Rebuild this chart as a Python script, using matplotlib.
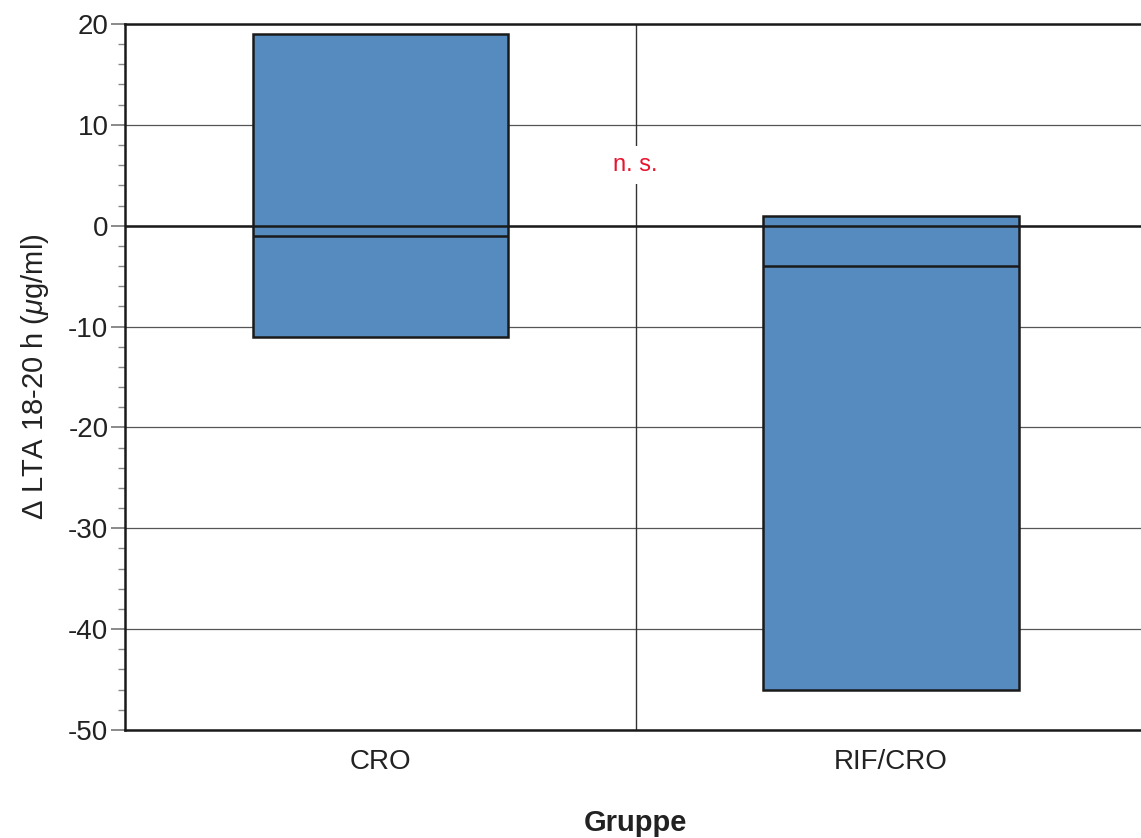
import matplotlib
matplotlib.use("Agg")
import matplotlib.pyplot as plt
from matplotlib.ticker import MultipleLocator

plt.rcParams['font.family'] = ['Liberation Sans', 'DejaVu Sans']
plt.rcParams['mathtext.fontset'] = 'custom'
plt.rcParams['mathtext.rm'] = 'Liberation Sans'
plt.rcParams['mathtext.it'] = 'Liberation Sans:italic'

# Daten
gruppen = ['CRO', 'RIF/CRO']
q1 = [-11, -46]
median = [-1, -4]
q3 = [19, 1]
yticks = [-50, -40, -30, -20, -10, 0, 10, 20]

stats = []
for g, a, m, b in zip(gruppen, q1, median, q3):
    stats.append(dict(label=g, q1=a, med=m, q3=b, whislo=a, whishi=b, fliers=[]))

fig = plt.figure(figsize=(11.41, 8.38), dpi=100)
ax = fig.add_axes([0.1096, 0.1289, 0.895, 0.8425])

pos = list(range(len(gruppen)))
ax.bxp(stats, positions=pos, widths=0.5, patch_artist=True, showcaps=False,
       boxprops=dict(facecolor='#568bbf', edgecolor='#1a1a1a', linewidth=1.8),
       medianprops=dict(color='#1a1a1a', linewidth=1.8),
       whiskerprops=dict(linewidth=0), zorder=2)

ax.set_xlim(-0.5, 1.5)
ax.set_ylim(-50, 20)
ax.set_yticks(yticks)
ax.set_yticklabels([str(t) for t in yticks])
ax.yaxis.set_minor_locator(MultipleLocator(2))
ax.yaxis.grid(True, color='#555555', linewidth=0.9, zorder=0)
ax.set_axisbelow(True)
ax.axvline(0.5, color='#333333', linewidth=1.0, zorder=1)
ax.axhline(0, color='#1a1a1a', linewidth=1.8, zorder=3)

ax.spines['right'].set_visible(False)
for s in ['left', 'bottom', 'top']:
    ax.spines[s].set_linewidth(1.8)
    ax.spines[s].set_color('#1a1a1a')

ax.tick_params(axis='y', which='major', length=10, width=1.2, color='#777777',
               labelsize=20, labelcolor='#222222', pad=2)
ax.tick_params(axis='y', which='minor', length=5, width=1.0, color='#888888')
ax.tick_params(axis='x', length=0, labelsize=20, labelcolor='#222222', pad=14)
ax.set_xticks(pos)
ax.set_xticklabels(gruppen)

ax.set_ylabel(r'$\Delta$ LTA 18-20 h ($\mu$g/ml)', fontsize=21, color='#222222', labelpad=12)
ax.set_xlabel('Gruppe', fontsize=21, fontweight='bold', color='#222222', labelpad=24)

ax.text(0.5, 6, 'n. s.', color='#e8132d', fontsize=17, ha='center', va='center',
        bbox=dict(facecolor='white', edgecolor='none', pad=6), zorder=4)

fig.savefig('out.png', dpi=100)
